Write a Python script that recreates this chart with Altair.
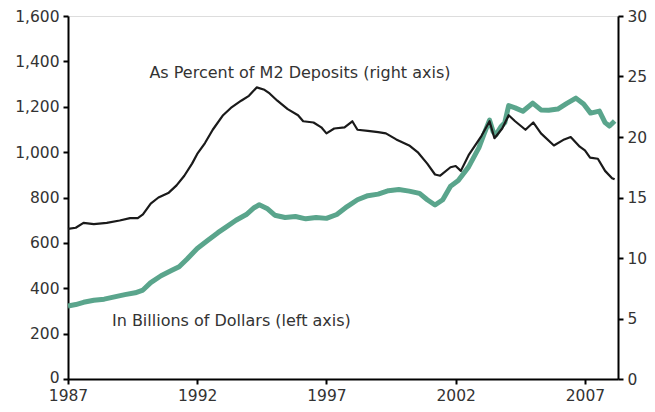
import altair as alt
import pandas as pd

# Deposits in billions of dollars (left axis)
amt_years = [1987.0, 1987.3, 1987.6, 1988.0, 1988.4, 1988.8, 1989.2, 1989.6, 1989.9, 1990.2,
             1990.6, 1991.0, 1991.3, 1991.6, 1992.0, 1992.4, 1992.8, 1993.1, 1993.5, 1993.9,
             1994.2, 1994.4, 1994.7, 1995.0, 1995.4, 1995.8, 1996.2, 1996.6, 1997.0, 1997.4,
             1997.8, 1998.2, 1998.6, 1999.0, 1999.4, 1999.8, 2000.2, 2000.6, 2000.9, 2001.2,
             2001.5, 2001.8, 2002.1, 2002.5, 2002.9, 2003.1, 2003.31, 2003.45, 2003.55, 2003.75,
             2003.9, 2004.05, 2004.3, 2004.6, 2004.98, 2005.3, 2005.6, 2005.95, 2006.3, 2006.65,
             2006.95, 2007.22, 2007.56, 2007.78, 2007.95, 2008.15]
amt_values = [322, 328, 338, 347, 352, 362, 372, 380, 392, 425,
              455, 478, 495, 528, 575, 610, 645, 668, 700, 725,
              755, 768, 752, 722, 712, 716, 706, 712, 708, 725,
              760, 790, 808, 815, 830, 835, 828, 818, 790, 767,
              790, 850, 875, 935, 1020, 1080, 1141, 1090, 1075, 1112,
              1130, 1205, 1195, 1180, 1216, 1186, 1185, 1190, 1215, 1238,
              1212, 1172, 1181, 1130, 1115, 1137]

# As percent of M2 deposits (right axis)
pct_years = [1987.0, 1987.3, 1987.6, 1988.0, 1988.5, 1989.0, 1989.4, 1989.7, 1989.9, 1990.2,
             1990.5, 1990.9, 1991.2, 1991.5, 1991.8, 1992.0, 1992.3, 1992.6, 1993.0, 1993.3,
             1993.7, 1994.0, 1994.3, 1994.6, 1994.8, 1995.1, 1995.5, 1995.9, 1996.1, 1996.5,
             1996.8, 1997.0, 1997.3, 1997.7, 1998.0, 1998.2, 1998.6, 1999.0, 1999.3, 1999.7,
             2000.2, 2000.55, 2000.9, 2001.2, 2001.4, 2001.8, 2002.0, 2002.2, 2002.5, 2003.0,
             2003.31, 2003.5, 2003.8, 2004.05, 2004.3, 2004.7, 2005.0, 2005.3, 2005.8, 2006.2,
             2006.45, 2006.8, 2007.0, 2007.2, 2007.5, 2007.78, 2008.05, 2008.15]
pct_values = [12.4, 12.5, 12.9, 12.8, 12.9, 13.1, 13.3, 13.3, 13.6, 14.5,
              15.0, 15.4, 16.0, 16.8, 17.8, 18.6, 19.5, 20.6, 21.8, 22.4,
              23.0, 23.4, 24.1, 23.9, 23.6, 23.0, 22.3, 21.8, 21.3, 21.2,
              20.8, 20.3, 20.7, 20.8, 21.3, 20.6, 20.5, 20.4, 20.3, 19.8,
              19.3, 18.7, 17.8, 16.9, 16.8, 17.5, 17.6, 17.2, 18.5, 20.1,
              21.3, 19.9, 20.7, 21.8, 21.3, 20.6, 21.2, 20.3, 19.3, 19.8,
              20.0, 19.2, 18.9, 18.3, 18.2, 17.2, 16.6, 16.5]

label_texts = ["As Percent of M2 Deposits (right axis)", "In Billions of Dollars (left axis)"]
label_years = [1990.15, 1988.7]
label_values = [1349, 256]

x_ticks = [1987, 1992, 1997, 2002, 2007]
left_ticks = [0, 200, 400, 600, 800, 1000, 1200, 1400, 1600]
right_ticks = [0, 5, 10, 15, 20, 25, 30]

amt_df = pd.DataFrame({"year": amt_years, "value": amt_values})
pct_df = pd.DataFrame({"year": pct_years, "pct": pct_values})
lab_df = pd.DataFrame({"year": label_years, "value": label_values, "text": label_texts})

FONT = "DejaVu Sans"
x_scale = alt.Scale(domain=[1987, 2008.28], nice=False, zero=False)
axis_common = dict(domainColor="black", domainWidth=2, tickColor="black", tickWidth=2,
                   tickSize=5, labelFontSize=15.5, labelColor="#333333", labelFont=FONT,
                   grid=False, title=None, labelFlush=False)

x_enc = alt.X("year:Q", scale=x_scale,
              axis=alt.Axis(values=x_ticks, format="d", labelPadding=4, **axis_common))

green = alt.Chart(amt_df).mark_line(color="#5aa58c", strokeWidth=5, strokeJoin="round").encode(
    x=x_enc,
    y=alt.Y("value:Q", scale=alt.Scale(domain=[0, 1600], nice=False),
            axis=alt.Axis(values=left_ticks, format=",d", orient="left", labelPadding=4,
                          labelOffset=alt.condition("datum.value == 0", alt.value(-2), alt.value(0)),
                          **axis_common)),
)

texts = alt.Chart(lab_df).mark_text(align="left", baseline="middle", fontSize=16,
                                    font=FONT, color="#333333").encode(
    x=alt.X("year:Q", scale=x_scale),
    y=alt.Y("value:Q", scale=alt.Scale(domain=[0, 1600], nice=False)),
    text="text:N",
)

black = alt.Chart(pct_df).mark_line(color="#1a1a1a", strokeWidth=2.2, strokeJoin="round").encode(
    x=alt.X("year:Q", scale=x_scale),
    y=alt.Y("pct:Q", scale=alt.Scale(domain=[0, 30], nice=False),
            axis=alt.Axis(values=right_ticks, format="d", orient="right", labelPadding=4, **axis_common)),
)

chart = alt.layer(alt.layer(green, texts), black).resolve_scale(y="independent").properties(
    width=550, height=363,
    autosize=alt.AutoSizeParams(type="none"),
    padding={"left": 60, "top": 8, "right": 29, "bottom": 25},
).configure_view(stroke=None).configure(background="white")

chart.save("out.html", embed_options={"renderer": "svg", "actions": False})
